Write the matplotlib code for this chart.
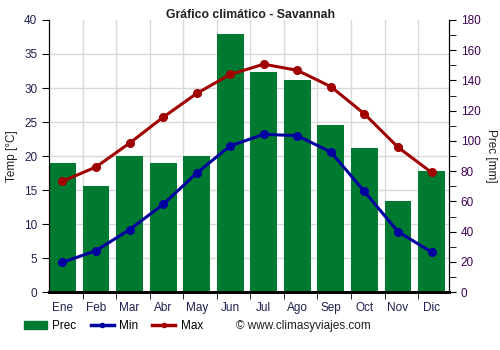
import matplotlib
matplotlib.use("Agg")
from matplotlib import pyplot as plt
from matplotlib.lines import Line2D
from matplotlib.patches import Patch
import numpy as np

plt.rcParams["font.family"] = ["Liberation Sans", "DejaVu Sans"]

months = ["Ene", "Feb", "Mar", "Abr", "May", "Jun", "Jul", "Ago", "Sep", "Oct", "Nov", "Dic"]
prec = [85.5, 70.3, 90.1, 85.5, 90.1, 170.7, 145.8, 140.3, 110.6, 95.4, 60.3, 80.2]
t_min = [4.4, 6.1, 9.2, 12.9, 17.5, 21.5, 23.2, 23.0, 20.6, 14.8, 8.9, 5.9]
t_max = [16.3, 18.4, 21.9, 25.7, 29.2, 32.0, 33.5, 32.6, 30.2, 26.2, 21.3, 17.6]

GREEN = "#007a30"
BLUE = "#0000a0"
RED = "#a00000"
GRID = "#d9d9d9"

fig = plt.figure(figsize=(5, 3.5), dpi=100)
ax = fig.add_axes([0.098, 0.165, 0.8, 0.778])
ax2 = ax.twinx()

x = np.arange(len(months))

# grid lines live on the bar axes so they sit behind the bars
for v in np.arange(5, 40, 5):
    ax2.axhline(v * 4.5, color=GRID, lw=1, zorder=0)
for b in x[1:] - 0.4:
    ax2.axvline(b, color=GRID, lw=1, zorder=0)

# precipitation bars on the right axis
ax2.bar(x, prec, width=0.8, color=GREEN, zorder=2)
ax2.set_ylim(0, 180)
ax2.set_yticks(np.arange(0, 181, 20))
ax2.set_yticks(np.arange(0, 181, 10), minor=True)
ax2.tick_params(axis="y", which="major", length=5, colors="black", labelcolor="#400050", labelsize=8.5)
ax2.tick_params(axis="y", which="minor", length=5, colors="black")
ax2.set_ylabel("Prec [mm]", rotation=270, labelpad=12, fontsize=8.5, color="#202020")

ax.set_zorder(ax2.get_zorder() + 1)
ax.patch.set_visible(False)
ax.plot(x, t_min, color=BLUE, lw=2.2, marker="o", ms=5.5, zorder=3)
ax.plot(x, t_max, color=RED, lw=2.2, marker="o", ms=5.5, zorder=3)
ax.set_ylim(0, 40)
ax.set_xlim(-0.4, 11.52)
ax.set_yticks(np.arange(0, 41, 5))
ax.tick_params(axis="y", length=5, labelcolor="#202050", labelsize=8.5)
ax.set_ylabel("Temp [°C]", fontsize=8.5, color="#202020", labelpad=4)

# month labels at the centres, ticks at bar edges
ax.set_xticks(x)
ax.set_xticklabels(months, fontsize=8.5, color="#202050")
ax.tick_params(axis="x", which="major", length=0, pad=7)
ax.set_xticks(x[1:] - 0.4, minor=True)
ax.tick_params(axis="x", which="minor", length=5)

for a in (ax, ax2):
    a.spines["top"].set_visible(False)
    a.spines["bottom"].set_linewidth(2)

fig.text(0.5, 0.94, "Gráfico climático - Savannah", ha="center", va="bottom",
         fontsize=8.8, fontweight="bold", color="#202020")

handles = [Patch(color=GREEN),
           Line2D([], [], color=BLUE, lw=2.5, marker="o", ms=3),
           Line2D([], [], color=RED, lw=2.5, marker="o", ms=3)]
fig.legend(handles, ["Prec", "Min", "Max"], loc="center left", bbox_to_anchor=(0.048, 0.068),
           ncol=3, frameon=False, fontsize=8.5, handlelength=1.95, handletextpad=0.45,
           columnspacing=1.2, borderpad=0, borderaxespad=0)
fig.text(0.472, 0.068, "© www.climasyviajes.com", ha="left", va="center", fontsize=8.5,
         color="#202020")

fig.savefig("out.png", dpi=100)
